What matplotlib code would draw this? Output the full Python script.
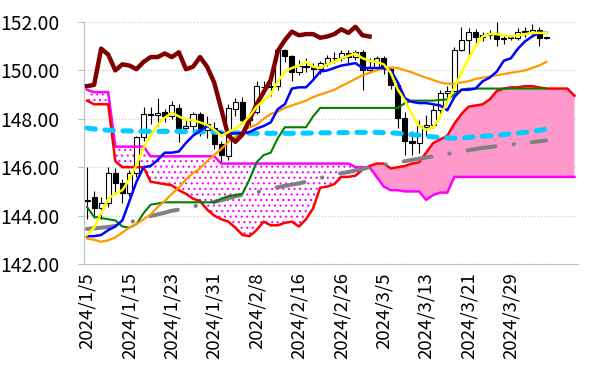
import matplotlib
matplotlib.use('Agg')
import matplotlib.pyplot as plt
import numpy as np

plt.rcParams['font.family'] = ['Noto Sans CJK JP', 'DejaVu Sans']
plt.rcParams['hatch.linewidth'] = 0.8

# ---------------- data ----------------
tick_labels = ['2024/1/5', '2024/1/15', '2024/1/23', '2024/1/31', '2024/2/8',
               '2024/2/16', '2024/2/26', '2024/3/5', '2024/3/13', '2024/3/21',
               '2024/3/29']
tick_every = 6
n_slots = 70

open_ = [144.60, 144.75, 144.30, 144.50, 145.75, 145.35, 144.95, 145.75, 147.25, 148.20,
         148.15, 148.30, 148.10, 148.45, 147.60, 147.70, 148.20, 147.55, 147.60, 146.95,
         146.45, 148.40, 148.70, 147.95, 148.30, 149.30, 149.30, 149.35, 150.85, 150.60,
         149.95, 150.20, 150.15, 150.05, 150.30, 150.50, 150.50, 150.70, 150.55, 150.75,
         150.00, 150.10, 150.50, 150.05, 149.40, 148.05, 147.10, 147.00, 147.65, 147.75,
         148.35, 149.05, 149.15, 150.85, 151.25, 151.60, 151.40, 151.45, 151.55, 151.30,
         151.35, 151.35, 151.60, 151.60, 151.65, 151.35]
high = [146.00, 145.00, 144.75, 146.00, 145.95, 145.50, 145.90, 147.30, 148.50, 148.50,
        148.85, 148.40, 148.75, 148.60, 147.95, 148.30, 148.30, 148.10, 147.85, 147.10,
        148.60, 148.85, 148.90, 148.30, 149.55, 149.55, 149.55, 150.90, 150.90, 150.65,
        150.45, 150.50, 150.30, 150.40, 150.65, 150.75, 150.85, 150.85, 150.85, 150.85,
        150.50, 150.60, 150.60, 150.15, 149.50, 148.30, 147.50, 147.95, 148.15, 148.55,
        149.20, 149.35, 150.95, 151.80, 151.75, 151.70, 151.60, 151.65, 152.00, 151.45,
        151.45, 151.75, 151.80, 151.90, 151.80, 151.40]
low = [143.85, 143.90, 143.85, 144.35, 144.95, 144.50, 144.80, 145.60, 147.10, 147.80,
       147.70, 147.85, 148.00, 147.05, 147.40, 147.50, 147.30, 147.20, 146.75, 146.20,
       146.30, 148.10, 147.80, 147.70, 148.20, 149.10, 148.95, 149.20, 150.35, 149.55,
       149.80, 149.95, 149.70, 149.85, 150.20, 150.30, 150.40, 150.30, 150.45, 149.20,
       149.95, 150.05, 149.85, 149.25, 147.60, 146.50, 146.50, 146.60, 147.30, 147.60,
       148.20, 148.90, 149.10, 150.80, 150.65, 151.00, 151.20, 151.30, 151.00, 151.10,
       151.25, 151.25, 151.40, 151.45, 151.00, 151.30]
close = [144.65, 144.30, 144.50, 145.75, 145.35, 144.95, 145.75, 147.25, 148.20, 148.15,
         148.25, 148.10, 148.55, 147.60, 147.70, 148.20, 147.55, 147.80, 146.95, 146.50,
         148.45, 148.70, 147.95, 148.05, 149.35, 149.30, 149.35, 150.85, 150.60, 149.95,
         150.20, 150.15, 150.05, 150.30, 150.50, 150.50, 150.70, 150.55, 150.75, 150.00,
         150.10, 150.50, 150.05, 149.40, 148.05, 147.10, 147.00, 147.70, 147.75, 148.35,
         149.05, 149.15, 150.85, 151.25, 151.60, 151.40, 151.45, 151.55, 151.30, 151.35,
         151.35, 151.60, 151.60, 151.65, 151.35, 151.35]

# lagging span (close plotted 25 slots back)
chikou = [149.35, 149.40, 150.90, 150.65, 150.00, 150.25, 150.20, 150.05, 150.35, 150.55,
          150.55, 150.70, 150.55, 150.75, 150.05, 150.15, 150.55, 150.15, 149.50, 148.40,
          147.30, 147.05, 147.35, 147.95, 148.60, 149.10, 149.60, 150.80, 151.25, 151.60,
          151.45, 151.50, 151.50, 151.35, 151.40, 151.50, 151.70, 151.55, 151.80, 151.45,
          151.40]

yellow_line = [143.20, 143.50, 144.10, 144.70, 144.90, 145.05, 145.50, 146.10, 146.80, 147.30,
               147.75, 148.05, 148.25, 148.10, 147.95, 147.95, 147.85, 147.75, 147.55, 147.30,
               147.45, 147.60, 147.80, 148.10, 148.50, 148.75, 149.00, 149.55, 149.95, 150.10,
               150.20, 150.35, 150.15, 150.10, 150.25, 150.35, 150.50, 150.60, 150.70, 150.50,
               150.40, 150.35, 150.25, 149.90, 149.20, 148.75, 148.20, 147.70, 147.55, 147.65,
               148.10, 148.70, 149.30, 149.90, 150.50, 151.00, 151.40, 151.50, 151.50, 151.45,
               151.40, 151.45, 151.50, 151.55, 151.55, 151.55]
blue_line = [143.15, 143.15, 143.20, 143.40, 143.55, 143.80, 144.60, 145.40, 146.00, 146.05,
             146.30, 146.60, 146.60, 146.65, 147.00, 147.30, 147.50, 147.70, 147.55, 147.40,
             147.40, 147.40, 147.40, 147.45, 147.60, 147.70, 147.85, 148.40, 148.60, 149.25,
             149.30, 149.30, 149.60, 149.95, 150.00, 150.10, 150.20, 150.25, 150.30, 150.10,
             150.10, 150.10, 150.10, 150.00, 149.50, 148.85, 148.70, 148.65, 148.65, 148.60,
             148.55, 148.35, 148.90, 149.20, 149.20, 149.25, 149.55, 149.70, 149.95, 150.40,
             150.50, 150.90, 151.20, 151.40, 151.55, 151.55]
green_line = [144.35, 143.95, 143.90, 143.85, 143.80, 143.55, 143.50, 143.65, 144.10, 144.45,
              144.50, 144.55, 144.55, 144.55, 144.55, 144.55, 144.55, 144.55, 144.55, 144.70,
              144.80, 144.85, 144.90, 145.50, 146.20, 146.50, 146.60, 147.20, 147.65, 147.65,
              147.65, 147.65, 148.10, 148.45, 148.45, 148.45, 148.45, 148.45, 148.45, 148.45,
              148.45, 148.45, 148.45, 148.45, 148.45, 148.65, 148.75, 148.75, 148.75, 148.75,
              148.78, 148.80, 149.00, 149.20, 149.25, 149.25, 149.25, 149.25, 149.25, 149.25,
              149.25, 149.25, 149.25, 149.25, 149.25, 149.25]
orange_line = [143.05, 143.00, 142.92, 142.98, 143.10, 143.30, 143.50, 143.65, 143.85, 144.05,
               144.35, 144.60, 144.90, 145.15, 145.50, 145.75, 145.95, 146.25, 146.50, 146.75,
               147.05, 147.25, 147.45, 147.65, 147.75, 148.00, 148.20, 148.30, 148.45, 148.55,
               148.65, 148.75, 148.90, 149.00, 149.10, 149.20, 149.35, 149.50, 149.65, 149.80,
               149.90, 150.00, 150.08, 150.12, 150.10, 150.00, 149.92, 149.80, 149.70, 149.60,
               149.50, 149.45, 149.45, 149.50, 149.55, 149.65, 149.70, 149.75, 149.80, 149.85,
               149.90, 149.95, 150.00, 150.10, 150.20, 150.35]
cyan_line = [147.62, 147.58, 147.55, 147.53, 147.52, 147.50, 147.50, 147.49, 147.48, 147.48,
             147.48, 147.48, 147.48, 147.48, 147.47, 147.47, 147.46, 147.45, 147.45, 147.44,
             147.43, 147.42, 147.41, 147.40, 147.40, 147.40, 147.40, 147.40, 147.40, 147.40,
             147.40, 147.41, 147.41, 147.42, 147.42, 147.42, 147.43, 147.43, 147.44, 147.44,
             147.44, 147.44, 147.43, 147.42, 147.40, 147.38, 147.35, 147.32, 147.28, 147.25,
             147.23, 147.21, 147.20, 147.21, 147.23, 147.26, 147.28, 147.30, 147.32, 147.35,
             147.38, 147.41, 147.44, 147.48, 147.52, 147.57]
gray_line = [143.45, 143.47, 143.50, 143.53, 143.57, 143.63, 143.72, 143.80, 143.90, 143.98,
             144.05, 144.12, 144.20, 144.25, 144.32, 144.38, 144.43, 144.50, 144.57, 144.63,
             144.72, 144.80, 144.85, 144.90, 144.97, 145.03, 145.10, 145.17, 145.23, 145.28,
             145.33, 145.40, 145.47, 145.55, 145.63, 145.70, 145.75, 145.80, 145.87, 145.93,
             146.00, 146.05, 146.10, 146.15, 146.20, 146.25, 146.30, 146.35, 146.40, 146.45,
             146.50, 146.55, 146.60, 146.65, 146.70, 146.75, 146.80, 146.83, 146.87, 146.90,
             146.93, 146.97, 147.00, 147.03, 147.07, 147.10]
span_a = [148.75, 148.60, 148.60, 148.60, 146.25, 146.00, 146.00, 146.00, 146.00, 145.40,
          145.35, 145.30, 145.25, 145.05, 144.90, 144.70, 144.60, 144.25, 144.00, 143.85,
          143.75, 143.50, 143.20, 143.15, 143.40, 143.75, 143.60, 143.60, 143.70, 143.75,
          143.55, 143.85, 144.30, 145.15, 145.20, 145.30, 145.60, 145.60, 145.65, 145.90,
          146.05, 146.15, 146.15, 145.95, 146.00, 146.05, 146.15, 146.20, 146.60, 147.00,
          147.15, 147.30, 147.80, 148.20, 148.50, 148.55, 148.60, 148.80, 149.15, 149.25,
          149.30, 149.30, 149.35, 149.35, 149.30, 149.25, 149.25, 149.25, 149.25, 148.95]
span_b = [149.20, 149.10, 149.10, 149.10, 146.85, 146.85, 146.85, 146.85, 146.85, 146.45,
          146.45, 146.45, 146.45, 146.45, 146.45, 146.45, 146.45, 146.45, 146.45, 146.15,
          146.15, 146.15, 146.15, 146.15, 146.15, 146.15, 146.15, 146.15, 146.15, 146.15,
          146.15, 146.15, 146.15, 146.15, 146.15, 146.15, 146.15, 146.15, 146.00, 146.00,
          146.00, 145.60, 145.20, 145.05, 145.05, 145.00, 145.00, 145.00, 144.65, 144.85,
          144.95, 144.95, 145.60, 145.60, 145.60, 145.60, 145.60, 145.60, 145.60, 145.60,
          145.60, 145.60, 145.60, 145.60, 145.60, 145.60, 145.60, 145.60, 145.60, 145.60]

# ---------------- figure ----------------
W, H = 590, 385
fig = plt.figure(figsize=(W / 100, H / 100), dpi=100)
L, R, T, B = 83.5, 578, 22, 264
ax = fig.add_axes([L / W, 1 - B / H, (R - L) / W, (B - T) / H])

xc = np.arange(len(close))
xs = np.arange(len(span_a))
xk = np.arange(len(chikou))
a = np.array(span_a)
b = np.array(span_b)

# cloud
ax.fill_between(xs, a, b, where=a >= b, interpolate=True, facecolor='#FF99CC',
                edgecolor='none', linewidth=0, zorder=1)
ax.fill_between(xs, a, b, where=b >= a, interpolate=True, facecolor='white',
                edgecolor='#FF00FF', hatch='...', linewidth=0, zorder=1)

# candles
o = np.array(open_); c = np.array(close)
ax.vlines(xc, low, high, color='black', linewidth=0.8, zorder=2)
up = c >= o
bottoms = np.minimum(o, c)
heights = np.maximum(np.abs(c - o), 0.02)
ax.bar(xc[up], heights[up], bottom=bottoms[up], width=0.72, facecolor='white',
       edgecolor='black', linewidth=0.8, zorder=2.1)
ax.bar(xc[~up], heights[~up], bottom=bottoms[~up], width=0.72, facecolor='black',
       edgecolor='black', linewidth=0.8, zorder=2.1)

# cloud spans
ax.plot(xs, span_b, color='#FF00FF', linewidth=1.8, zorder=3)
ax.plot(xs, span_a, color='#FF0000', linewidth=1.8, zorder=3.1)

# moving averages
ax.plot(xc, gray_line, color='#808080', linewidth=2.9, dashes=(7, 4.5, 0.1, 4.5),
        dash_capstyle='round', zorder=4)
ax.plot(xc, cyan_line, color='#00CCFF', linewidth=3.6, dashes=(1.7, 1.9),
        dash_capstyle='round', zorder=4.1)
ax.plot(xc, green_line, color='#008000', linewidth=1.5, zorder=5)
ax.plot(xc, orange_line, color='#FF9900', linewidth=1.6, zorder=5.1)
ax.plot(xc, blue_line, color='#0000FF', linewidth=1.8, zorder=5.2)
ax.plot(xk, chikou, color='#800000', linewidth=3.2, zorder=5.3)
ax.plot(xc, yellow_line, color='#FFFF00', linewidth=1.8, zorder=5.4)

# axes styling
ax.set_xlim(-0.5, n_slots - 0.5)
ax.set_ylim(142, 152)
ax.set_yticks(np.arange(142, 152.1, 2))
ax.set_yticklabels(['%.2f' % v for v in np.arange(142, 152.1, 2)])
ax.set_xticks(np.arange(0, len(tick_labels) * tick_every, tick_every))
ax.set_xticklabels(tick_labels, rotation=90)
ax.yaxis.grid(True, color='#D0D0D0', linestyle=(0, (1, 1.5)), linewidth=0.9)
ax.set_axisbelow(True)
for s in ['top', 'right']:
    ax.spines[s].set_visible(False)
ax.spines['left'].set_color('#BFBFBF')
ax.spines['bottom'].set_color('#BFBFBF')
ax.tick_params(axis='y', length=4.3, color='#BFBFBF', pad=13, labelsize=13.9)
ax.tick_params(axis='x', length=0, pad=6, labelsize=13.4)

fig.savefig('out.png', dpi=100)
